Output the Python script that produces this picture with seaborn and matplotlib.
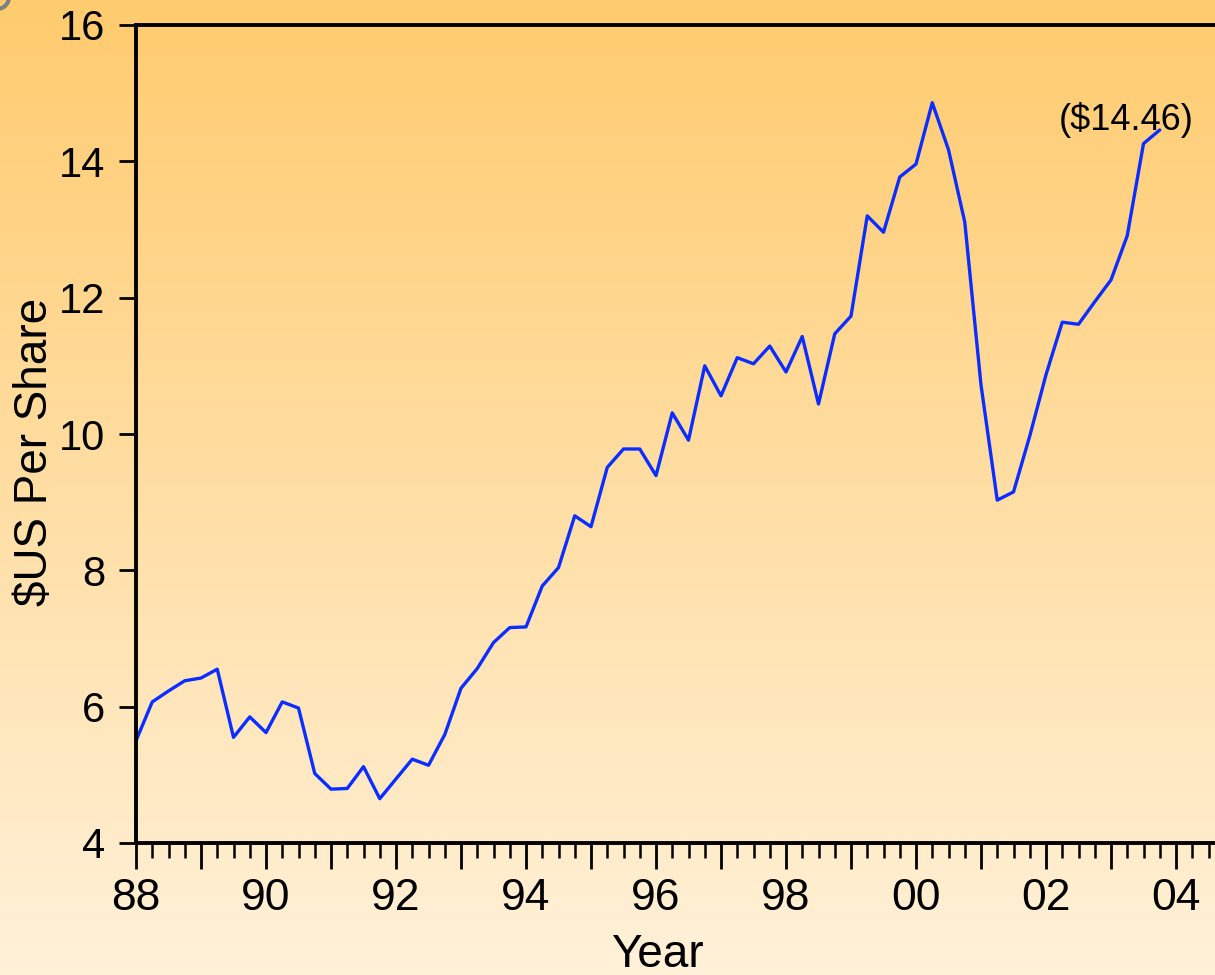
import numpy as np
import pandas as pd
import matplotlib
matplotlib.use("Agg")
import matplotlib.pyplot as plt
from matplotlib.patches import Circle
from matplotlib.ticker import FixedLocator, MultipleLocator
import seaborn as sns

# Quarterly earnings per share, 1988 Q1 through 2003 Q4
eps = [5.50, 6.07, 6.23, 6.38, 6.42, 6.55, 5.55, 5.85,
       5.62, 6.07, 5.98, 5.02, 4.79, 4.80, 5.12, 4.65,
       4.94, 5.23, 5.14, 5.59, 6.27, 6.56, 6.94, 7.16,
       7.17, 7.77, 8.04, 8.80, 8.64, 9.51, 9.78, 9.78,
       9.39, 10.31, 9.91, 11.00, 10.56, 11.12, 11.03, 11.29,
       10.91, 11.43, 10.44, 11.47, 11.73, 13.20, 12.96, 13.77,
       13.96, 14.86, 14.17, 13.11, 10.72, 9.03, 9.15, 9.97,
       10.87, 11.64, 11.61, 11.94, 12.26, 12.91, 14.26, 14.46]
start_quarter = "1988Q1"

tick_years = [1988, 1990, 1992, 1994, 1996, 1998, 2000, 2002, 2004]
tick_labels = ["88", "90", "92", "94", "96", "98", "00", "02", "04"]
y_ticks = [4, 6, 8, 10, 12, 14, 16]
last_label = "($14.46)"

periods = pd.period_range(start_quarter, periods=len(eps), freq="Q")
df = pd.DataFrame({
    "Year": periods.year + (periods.quarter - 1) / 4.0,
    "EPS": eps,
})

sns.set_style("ticks")
plt.rcParams["font.family"] = ["Liberation Sans", "DejaVu Sans"]
for key in ("text.color", "axes.labelcolor", "xtick.color", "ytick.color"):
    plt.rcParams[key] = "black"

W, H = 1215, 975
fig = plt.figure(figsize=(W / 100, H / 100), dpi=100)

# warm vertical gradient behind everything
bg = fig.add_axes([0, 0, 1, 1], zorder=0)
top = np.array([255, 203, 110]) / 255.0
bottom = np.array([255, 241, 217]) / 255.0
t = np.linspace(0, 1, 512)[:, None]
grad = (top[None, :] * (1 - t) + bottom[None, :] * t)[:, None, :]
bg.imshow(grad, aspect="auto", extent=[0, 1, 0, 1], origin="upper")
bg.set_axis_off()
fig.patches.append(Circle((-3, H + 3), 12, transform=None, facecolor="none",
                          edgecolor="#7f7f7f", linewidth=3, zorder=1))

# plot area: left edge at 136 px, 65 px per year, runs off the right side
left_px, bottom_px, top_px = 136, 975 - 843, 975 - 25
x_min, x_max = 1988, 2005
px_per_year = 65
width_px = (x_max - x_min) * px_per_year
ax = fig.add_axes([left_px / W, bottom_px / H, width_px / W, (top_px - bottom_px) / H],
                  zorder=2)
ax.set_facecolor("none")

sns.lineplot(data=df, x="Year", y="EPS", ax=ax, color="#0a2eff",
             linewidth=2.4, legend=False)

ax.set_xlim(x_min, x_max)
ax.set_ylim(4, 16)

# long ticks on every whole year, labels on every second year, quarters as minor
year_pos = list(range(x_min, x_max + 1))
label_map = dict(zip(tick_years, tick_labels))
ax.xaxis.set_major_locator(FixedLocator(year_pos))
ax.set_xticklabels([label_map.get(y, "") for y in year_pos])
ax.xaxis.set_minor_locator(MultipleLocator(0.25))
ax.yaxis.set_major_locator(FixedLocator(y_ticks))

for s in ax.spines.values():
    s.set_linewidth(2.8)
    s.set_color("black")

ax.tick_params(axis="x", which="major", direction="out", length=19, width=2.0,
               labelsize=32, pad=6)
ax.tick_params(axis="x", which="minor", direction="out", length=11, width=1.8)
ax.tick_params(axis="y", which="major", direction="out", length=12, width=2.0,
               labelsize=30, pad=10)

ax.set_xlabel("Year", fontsize=33)
ax.set_ylabel("$US Per Share", fontsize=33)
ax.xaxis.set_label_coords((657 - left_px) / width_px, -0.110)
ax.yaxis.set_label_coords((57 - left_px) / width_px, 0.478)

last = df.iloc[-1]
ax.annotate(last_label, xy=(last["Year"], last["EPS"]), xytext=(-24, 7),
            textcoords="offset points", ha="center", va="center", fontsize=26)

fig.savefig("out.png", dpi=100)
